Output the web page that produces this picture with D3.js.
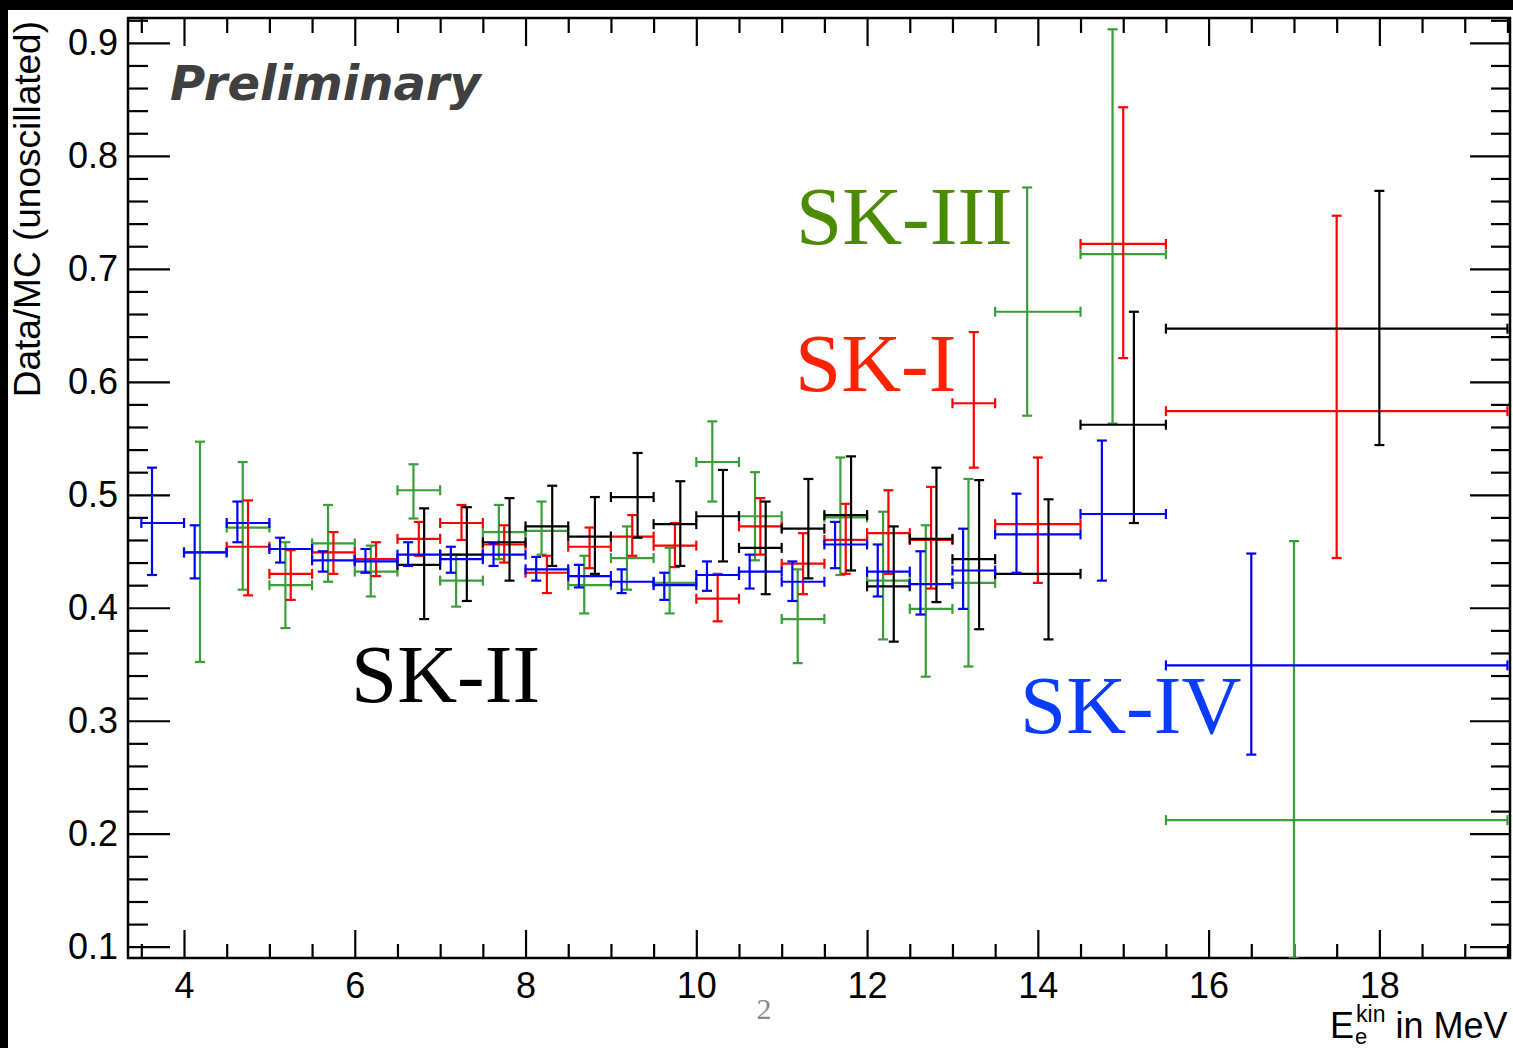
<!DOCTYPE html>
<html>
<head>
<meta charset="utf-8">
<script src="https://cdn.jsdelivr.net/npm/d3@7"></script>
<style>
  html, body { margin: 0; padding: 0; background: #fff; }
  svg { display: block; }
</style>
</head>
<body>
<script>
// ---------- DATA ----------
const binLow  = [3.5, 4.0, 4.5, 5.0, 5.5, 6.0, 6.5, 7.0, 7.5, 8.0, 8.5, 9.0, 9.5, 10.0, 10.5, 11.0, 11.5, 12.0, 12.5, 13.0, 13.5, 14.5, 15.5];
const binHigh = [4.0, 4.5, 5.0, 5.5, 6.0, 6.5, 7.0, 7.5, 8.0, 8.5, 9.0, 9.5, 10.0, 10.5, 11.0, 11.5, 12.0, 12.5, 13.0, 13.5, 14.5, 15.5, 19.5];

// SK-IV (blue)
const sk4Value = [0.475, 0.449, 0.475, 0.452, 0.442, 0.441, 0.447, 0.443, 0.447, 0.434, 0.428, 0.423, 0.420, 0.429, 0.432, 0.423, 0.456, 0.432, 0.421, 0.433, 0.465, 0.483, 0.349];
const sk4Low   = [0.429, 0.426, 0.458, 0.440, 0.432, 0.431, 0.437, 0.431, 0.437, 0.424, 0.418, 0.413, 0.407, 0.415, 0.417, 0.406, 0.435, 0.410, 0.394, 0.399, 0.431, 0.424, 0.270];
const sk4High  = [0.524, 0.473, 0.494, 0.462, 0.450, 0.452, 0.458, 0.454, 0.457, 0.445, 0.438, 0.434, 0.431, 0.441, 0.447, 0.441, 0.476, 0.456, 0.450, 0.470, 0.501, 0.548, 0.448];

// SK-III (green)
const sk3Value = [null, 0.449, 0.471, 0.420, 0.457, 0.432, 0.504, 0.424, 0.467, 0.468, 0.420, 0.444, 0.422, 0.529, 0.481, 0.390, 0.480, 0.424, 0.399, 0.422, 0.662, 0.713, 0.212];
const sk3Low   = [null, 0.352, 0.416, 0.382, 0.423, 0.410, 0.479, 0.401, 0.443, 0.447, 0.395, 0.416, 0.395, 0.494, 0.442, 0.351, 0.429, 0.372, 0.339, 0.348, 0.570, 0.563, 0.090];
const sk3High  = [null, 0.547, 0.529, 0.458, 0.491, 0.455, 0.527, 0.447, 0.491, 0.494, 0.446, 0.472, 0.453, 0.565, 0.520, 0.434, 0.533, 0.485, 0.473, 0.514, 0.772, 0.912, 0.459];

// SK-I (red)
const sk1Value = [null, null, 0.454, 0.430, 0.449, 0.443, 0.461, 0.475, 0.456, 0.431, 0.454, 0.463, 0.455, 0.408, 0.472, 0.439, 0.460, 0.466, 0.460, 0.581, 0.474, 0.722, 0.574];
const sk1Low   = [null, null, 0.411, 0.407, 0.430, 0.428, 0.446, 0.460, 0.440, 0.413, 0.435, 0.446, 0.436, 0.388, 0.447, 0.412, 0.430, 0.430, 0.417, 0.524, 0.422, 0.621, 0.444];
const sk1High  = [null, null, 0.495, 0.451, 0.467, 0.458, 0.476, 0.491, 0.473, 0.446, 0.471, 0.482, 0.475, 0.430, 0.497, 0.466, 0.492, 0.504, 0.507, 0.644, 0.533, 0.843, 0.747];

// SK-II (black)
const sk2Value = [null, null, null, null, null, null, 0.438, 0.447, 0.458, 0.472, 0.463, 0.498, 0.474, 0.481, 0.453, 0.470, 0.482, 0.419, 0.461, 0.443, 0.430, 0.562, 0.647];
const sk2Low   = [null, null, null, null, null, null, 0.390, 0.406, 0.424, 0.437, 0.430, 0.462, 0.437, 0.441, 0.412, 0.426, 0.433, 0.370, 0.405, 0.381, 0.372, 0.475, 0.544];
const sk2High  = [null, null, null, null, null, null, 0.488, 0.489, 0.497, 0.508, 0.498, 0.537, 0.512, 0.522, 0.494, 0.514, 0.534, 0.472, 0.524, 0.513, 0.496, 0.662, 0.769];

const yMajorTicks = [0.1, 0.2, 0.3, 0.4, 0.5, 0.6, 0.7, 0.8, 0.9];
const yTickLabels = ["0.1", "0.2", "0.3", "0.4", "0.5", "0.6", "0.7", "0.8", "0.9"];
const xMajorTicks = [4, 6, 8, 10, 12, 14, 16, 18];
const xTickLabels = ["4", "6", "8", "10", "12", "14", "16", "18"];

const seriesNames = ["SK-IV", "SK-III", "SK-I", "SK-II"];

// ---------- LAYOUT ----------
const W = 1513, H = 1048;
const L = 128, R = 1510, T = 18, B = 958;

const svg = d3.select("body").append("svg").attr("width", W).attr("height", H);
svg.append("rect").attr("width", W).attr("height", H).attr("fill", "#fff");
// slide border remnants
svg.append("rect").attr("x", 0).attr("y", 0).attr("width", W).attr("height", 10).attr("fill", "#000");
svg.append("rect").attr("x", 0).attr("y", 0).attr("width", 8).attr("height", H).attr("fill", "#000");

const x = d3.scaleLinear().domain([3.344, 19.53]).range([L, R]);
const y = d3.scaleLinear().domain([0.09, 0.922]).range([B, T]);

const fontSans = "'Liberation Sans', Arial, Helvetica, sans-serif";
const fontSerif = "'Liberation Serif', 'Times New Roman', serif";

// minor tick values
const yMinor = d3.range(0.1, 0.921, 0.02).map(v => +v.toFixed(2)).filter(v => !yMajorTicks.some(m => Math.abs(m - v) < 1e-6));
const xMinor = d3.range(3.5, 19.51, 0.5).filter(v => !xMajorTicks.includes(v));

function styleAxis(g) {
  g.select(".domain").remove();
  g.selectAll(".tick line").attr("stroke", "#000").attr("stroke-width", 2.2);
}

// left axis
svg.append("g").attr("transform", `translate(${L},0)`)
  .call(d3.axisLeft(y).tickValues(yMajorTicks).tickSize(-42).tickPadding(10)
        .tickFormat((d, i) => yTickLabels[i]))
  .call(styleAxis)
  .call(g => g.selectAll("text").attr("font-family", fontSans).attr("font-size", 36).attr("fill", "#000"));
svg.append("g").attr("transform", `translate(${L},0)`)
  .call(d3.axisLeft(y).tickValues(yMinor).tickSize(-20).tickFormat(""))
  .call(styleAxis);
// right axis
svg.append("g").attr("transform", `translate(${R},0)`)
  .call(d3.axisRight(y).tickValues(yMajorTicks).tickSize(-40).tickFormat(""))
  .call(styleAxis);
svg.append("g").attr("transform", `translate(${R},0)`)
  .call(d3.axisRight(y).tickValues(yMinor).tickSize(-19).tickFormat(""))
  .call(styleAxis);
// bottom axis
svg.append("g").attr("transform", `translate(0,${B})`)
  .call(d3.axisBottom(x).tickValues(xMajorTicks).tickSize(-28).tickPadding(14)
        .tickFormat((d, i) => xTickLabels[i]))
  .call(styleAxis)
  .call(g => g.selectAll("text").attr("font-family", fontSans).attr("font-size", 36).attr("fill", "#000"));
svg.append("g").attr("transform", `translate(0,${B})`)
  .call(d3.axisBottom(x).tickValues(xMinor).tickSize(-14).tickFormat(""))
  .call(styleAxis);
// top axis
svg.append("g").attr("transform", `translate(0,${T})`)
  .call(d3.axisTop(x).tickValues(xMajorTicks).tickSize(-28).tickFormat(""))
  .call(styleAxis);
svg.append("g").attr("transform", `translate(0,${T})`)
  .call(d3.axisTop(x).tickValues(xMinor).tickSize(-15).tickFormat(""))
  .call(styleAxis);

// frame
svg.append("rect").attr("x", L).attr("y", T).attr("width", R - L).attr("height", B - T)
  .attr("fill", "none").attr("stroke", "#000").attr("stroke-width", 2.5);

// clip
svg.append("clipPath").attr("id", "plotclip").append("rect")
  .attr("x", L).attr("y", T - 6).attr("width", R - L).attr("height", B - T + 6);

// ---------- ERROR BARS ----------
const cap = 5;
function drawSeries(values, lows, highs, k, color) {
  const data = values.map((v, i) => ({ v, lo: lows[i], hi: highs[i], a: binLow[i], b: binHigh[i] }))
    .filter(d => d.v !== null);
  const g = svg.append("g").attr("clip-path", "url(#plotclip)")
    .attr("stroke", color).attr("stroke-width", 2.2).attr("fill", "none");
  data.forEach(d => {
    const xa = x(d.a), xb = x(d.b);
    const xm = x(d.a + (d.b - d.a) * (0.25 + 0.125 * k));
    const yv = y(d.v), yl = y(d.lo), yh = y(d.hi);
    g.append("line").attr("x1", xa).attr("x2", xb).attr("y1", yv).attr("y2", yv);
    g.append("line").attr("x1", xa).attr("x2", xa).attr("y1", yv - cap).attr("y2", yv + cap);
    g.append("line").attr("x1", xb).attr("x2", xb).attr("y1", yv - cap).attr("y2", yv + cap);
    g.append("line").attr("x1", xm).attr("x2", xm).attr("y1", yl).attr("y2", yh);
    g.append("line").attr("x1", xm - cap).attr("x2", xm + cap).attr("y1", yl).attr("y2", yl);
    g.append("line").attr("x1", xm - cap).attr("x2", xm + cap).attr("y1", yh).attr("y2", yh);
  });
}
drawSeries(sk3Value, sk3Low, sk3High, 1, "#3a9d3a");
drawSeries(sk1Value, sk1Low, sk1High, 2, "#ff0000");
drawSeries(sk2Value, sk2Low, sk2High, 3, "#000000");
drawSeries(sk4Value, sk4Low, sk4High, 0, "#0000ff");

// ---------- TEXT ----------
svg.append("text").attr("x", 170).attr("y", 100)
  .attr("font-family", "'DejaVu Sans', Verdana, sans-serif").attr("font-weight", "bold")
  .attr("font-style", "italic").attr("font-size", 48).attr("fill", "#404040")
  .text("Preliminary");

const labels = [
  { t: seriesNames[1], x: 796, y: 244, c: "#4b8b00" },
  { t: seriesNames[2], x: 795, y: 391, c: "#ff2200" },
  { t: seriesNames[3], x: 351, y: 702, c: "#000000" },
  { t: seriesNames[0], x: 1020, y: 733, c: "#0a3cff" }
];
labels.forEach(l => {
  svg.append("text").attr("x", l.x).attr("y", l.y).attr("font-family", fontSerif)
    .attr("font-size", 83).attr("fill", l.c).text(l.t);
});

// y-axis title
svg.append("text")
  .attr("transform", "translate(40,21) rotate(-90)")
  .attr("text-anchor", "end")
  .attr("font-family", fontSans).attr("font-size", 37).attr("fill", "#000")
  .text("Data/MC (unoscillated)");

// x-axis title
const xt = svg.append("text").attr("x", 1330).attr("y", 1038)
  .attr("font-family", fontSans).attr("font-size", 36).attr("fill", "#000");
xt.append("tspan").text("E");
xt.append("tspan").attr("font-size", 23).attr("dx", 2).attr("dy", -16).text("kin");
xt.append("tspan").attr("dy", 16).text(" in MeV");
svg.append("text").attr("x", 1355).attr("y", 1044)
  .attr("font-family", fontSans).attr("font-size", 22).attr("fill", "#000").text("e");

// slide page number
svg.append("text").attr("x", 764).attr("y", 1019).attr("text-anchor", "middle")
  .attr("font-family", fontSerif).attr("font-size", 30).attr("fill", "#8a8a8a").text("2");
</script>
</body>
</html>
